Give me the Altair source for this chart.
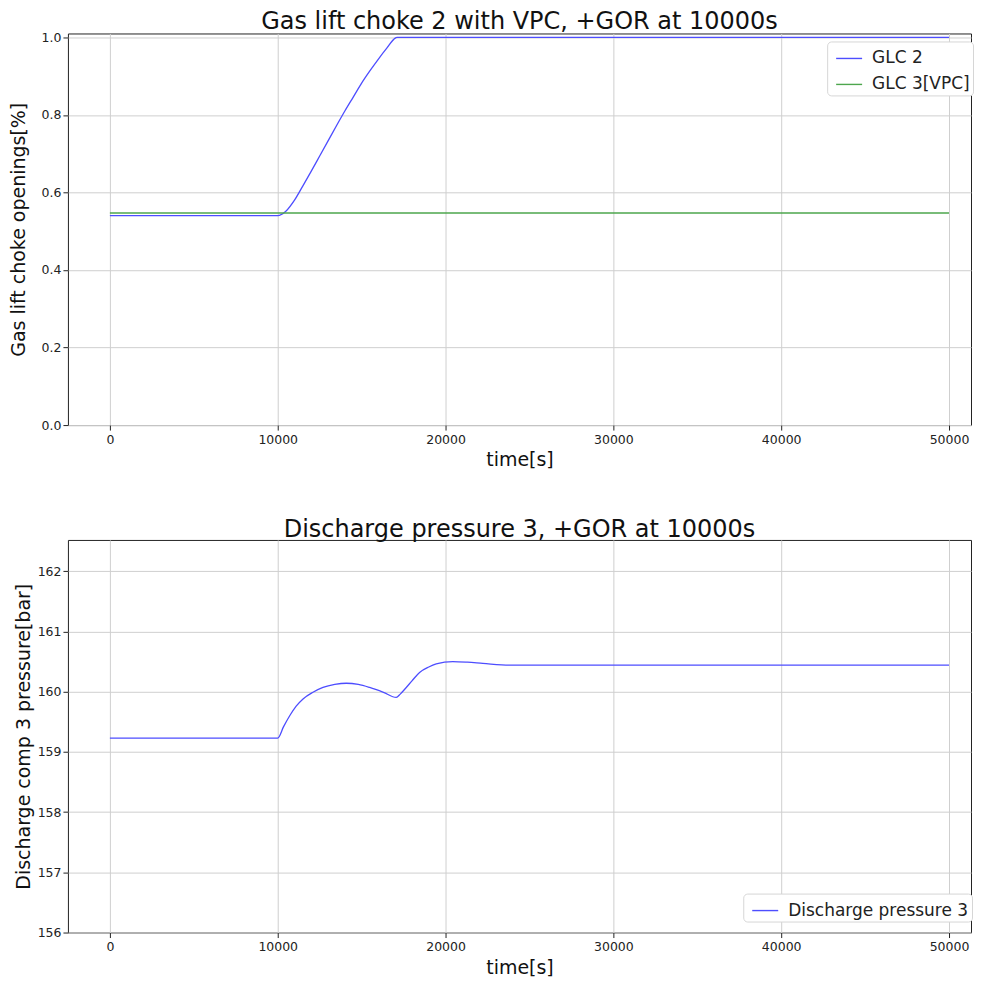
import altair as alt
import pandas as pd

# ---- data ----
glc2_t = [0, 10000, 10500, 11000, 11500, 12000, 12500, 13000, 13500, 14000,
          14500, 15000, 15500, 16000, 16500, 17000, 17100, 50000]
glc2_v = [0.540, 0.540, 0.552, 0.580, 0.617, 0.655, 0.694, 0.733, 0.772, 0.810,
          0.846, 0.882, 0.914, 0.944, 0.972, 0.998, 1.0, 1.0]
glc3_t = [0, 50000]
glc3_v = [0.547, 0.547]

dp_t = [0, 10000, 10350, 10714, 11100, 11508, 12100, 12698, 13400, 14087,
        14800, 15476, 16300, 17063, 17300, 17659, 18000, 18452, 19000, 19444,
        20436, 21300, 22222, 23810, 26190, 50000]
dp_v = [159.23, 159.23, 159.42, 159.60, 159.76, 159.88, 159.99, 160.07, 160.12, 160.14,
        160.12, 160.07, 159.99, 159.905, 159.96, 160.07, 160.18, 160.32, 160.41, 160.46,
        160.50, 160.49, 160.47, 160.44, 160.44, 160.44]

x_ticks = [0, 10000, 20000, 30000, 40000, 50000]
top_y_ticks = [0.0, 0.2, 0.4, 0.6, 0.8, 1.0]
bot_y_ticks = [156, 157, 158, 159, 160, 161, 162]

top_series = ["GLC 2", "GLC 3[VPC]"]
top_colors = ["#4d4dff", "#4da64d"]
bot_series = ["Discharge pressure 3"]
bot_colors = ["#4d4dff"]

top_df = pd.concat([
    pd.DataFrame({"t": glc2_t, "v": glc2_v, "series": top_series[0], "o": 0}),
    pd.DataFrame({"t": glc3_t, "v": glc3_v, "series": top_series[1], "o": 1}),
])
bot_df = pd.DataFrame({"t": dp_t, "v": dp_v, "series": bot_series[0]})

FONT = "DejaVu Sans"
W = 904
H_TOP, H_BOT = 392, 393

x_scale = alt.Scale(domain=[-2500, 51310], nice=False, zero=False)


def legend(x, y):
    return alt.Legend(
        title=None, orient="none", legendX=x, legendY=y,
        symbolType="stroke", symbolSize=676, symbolStrokeWidth=1.4,
        symbolOffset=5, labelLimit=400,
        labelFontSize=17, labelFont=FONT, labelColor="#222222",
        padding=3, rowPadding=4, labelOffset=9,
        fillColor="white", strokeColor="#d6d6d6", cornerRadius=4,
    )


x_axis = alt.Axis(values=x_ticks, format="d", title="time[s]",
                  tickSize=5, labelPadding=3, titlePadding=5)

top = alt.Chart(top_df).mark_line(strokeWidth=1.3, interpolate="monotone").encode(
    x=alt.X("t:Q", scale=x_scale, axis=x_axis),
    y=alt.Y("v:Q", scale=alt.Scale(domain=[0, 1.01], nice=False, zero=False),
            axis=alt.Axis(values=top_y_ticks, format=".1f", titlePadding=13,
                          title="Gas lift choke openings[%]")),
    color=alt.Color("series:N",
                    scale=alt.Scale(domain=top_series, range=top_colors),
                    legend=legend(760, 8)),
    order="o:Q",
).properties(
    width=W, height=H_TOP,
    title=alt.TitleParams("Gas lift choke 2 with VPC, +GOR at 10000s", offset=-3),
)

bottom = alt.Chart(bot_df).mark_line(strokeWidth=1.3, interpolate="monotone").encode(
    x=alt.X("t:Q", scale=x_scale, axis=x_axis),
    y=alt.Y("v:Q", scale=alt.Scale(domain=[156, 162.52], nice=False, zero=False),
            axis=alt.Axis(values=bot_y_ticks, format="d", titlePadding=4,
                          title="Discharge comp 3 pressure[bar]")),
    color=alt.Color("series:N",
                    scale=alt.Scale(domain=bot_series, range=bot_colors),
                    legend=legend(676, 354)),
).properties(
    width=W, height=H_BOT,
    title=alt.TitleParams("Discharge pressure 3, +GOR at 10000s", offset=-2),
)

chart = alt.vconcat(top, bottom, spacing=47).resolve_scale(
    color="independent"
).properties(
    padding={"left": 0, "top": 1, "right": 0, "bottom": 0},
).configure_view(
    stroke="#222222", strokeWidth=1,
).configure_axis(
    grid=True, gridColor="#cfcfcf", gridWidth=1,
    domain=False, tickColor="#222222", tickWidth=1,
    labelFont=FONT, labelFontSize=12.5, labelColor="#222222",
    titleFont=FONT, titleFontSize=19, titleFontWeight="normal", titleColor="#111111",
).configure_title(
    font=FONT, fontSize=24, fontWeight="normal", color="#111111",
    anchor="middle",
)

chart.save("out.html", embed_options={"renderer": "svg", "actions": False})
